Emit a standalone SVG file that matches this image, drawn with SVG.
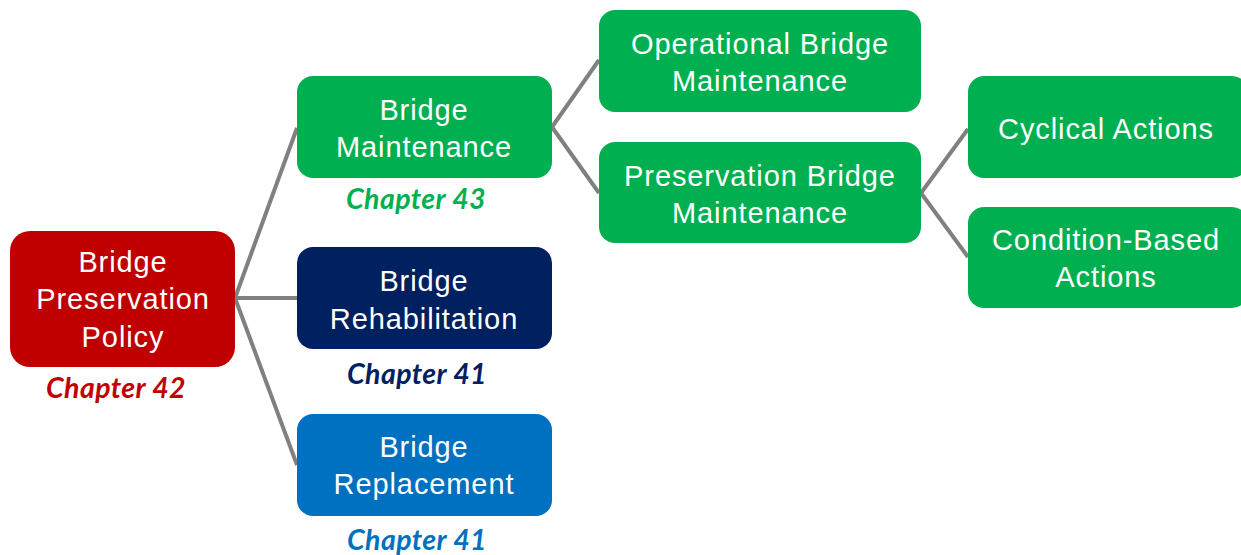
<svg xmlns="http://www.w3.org/2000/svg" width="1241" height="555" viewBox="0 0 1241 555">
<style>
.node{stroke:none}
.red{fill:#C00000}.green{fill:#00B050}.navy{fill:#002060}.blue{fill:#0070C0}
.t{font-family:"Liberation Sans",Arial,sans-serif;font-size:29px;fill:#FFFFFF;text-anchor:middle;letter-spacing:0.9px}
.ch{font-family:Lato,"Open Sans",sans-serif;font-size:28.5px;font-weight:bold;font-style:italic;text-anchor:middle;letter-spacing:0.4px}
.conn{stroke:#808080;stroke-width:4;fill:none;stroke-linecap:butt}
</style>
<rect width="1241" height="555" fill="#FFFFFF"/>
<g id="connectors" class="conn">
<path d="M235,298 L297,128"/>
<path d="M235,298 L297,298"/>
<path d="M235,298 L297,465"/>
<path d="M552,127 L599,60"/>
<path d="M552,127 L599,193"/>
<path d="M921,193 L968,129"/>
<path d="M921,193 L968,257"/>
</g>
<g id="policy">
<rect class="node red" x="10" y="231" width="225" height="136" rx="20"/>
<text class="t" x="123" y="272">Bridge</text>
<text class="t" x="123" y="309">Preservation</text>
<text class="t" x="123" y="347">Policy</text>
<text class="ch" x="116" y="398" fill="#C00000">Chapter 42</text>
</g>
<g id="maintenance">
<rect class="node green" x="297" y="76" width="255" height="102" rx="16"/>
<text class="t" x="424" y="120">Bridge</text>
<text class="t" x="424" y="157">Maintenance</text>
<text class="ch" x="416" y="209" fill="#00B050">Chapter 43</text>
</g>
<g id="rehabilitation">
<rect class="node navy" x="297" y="247" width="255" height="102" rx="16"/>
<text class="t" x="424" y="291">Bridge</text>
<text class="t" x="424" y="329">Rehabilitation</text>
<text class="ch" x="417" y="384" fill="#002060">Chapter 41</text>
</g>
<g id="replacement">
<rect class="node blue" x="297" y="414" width="255" height="102" rx="16"/>
<text class="t" x="424" y="457">Bridge</text>
<text class="t" x="424" y="494">Replacement</text>
<text class="ch" x="417" y="550" fill="#0070C0">Chapter 41</text>
</g>
<g id="operational">
<rect class="node green" x="599" y="10" width="322" height="102" rx="16"/>
<text class="t" x="760" y="54">Operational Bridge</text>
<text class="t" x="760" y="91">Maintenance</text>
</g>
<g id="preservation">
<rect class="node green" x="599" y="142" width="322" height="101" rx="16"/>
<text class="t" x="760" y="186">Preservation Bridge</text>
<text class="t" x="760" y="223">Maintenance</text>
</g>
<g id="cyclical">
<rect class="node green" x="968" y="76" width="280" height="102" rx="16"/>
<text class="t" x="1106" y="139">Cyclical Actions</text>
</g>
<g id="condition">
<rect class="node green" x="968" y="207" width="280" height="101" rx="16"/>
<text class="t" x="1106" y="250">Condition-Based</text>
<text class="t" x="1106" y="287">Actions</text>
</g>
</svg>
